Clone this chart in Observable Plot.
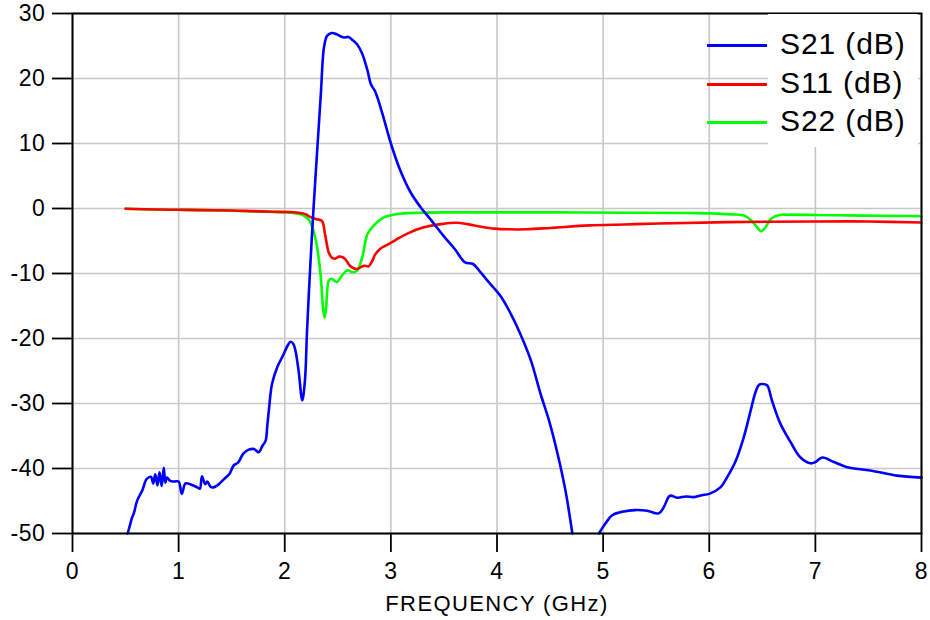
<!DOCTYPE html>
<html>
<head>
<meta charset="utf-8">
<script src="https://cdn.jsdelivr.net/npm/d3@7"></script>
<script src="https://cdn.jsdelivr.net/npm/@observablehq/plot@0.6"></script>
<style>
  html, body { margin: 0; padding: 0; background: #fff; }
  #wrap { position: relative; width: 930px; height: 620px; font-family: "Liberation Sans", Arial, sans-serif; }
  #wrap svg g[aria-label*="axis"] path, #wrap svg g[aria-label*="axis"] line { stroke-width: 1.8px; }
  #wrap svg g[aria-label*="tick label"] text { letter-spacing: 0.6px; }
  .legbg { position: absolute; background: #fff; }
  .legline { position: absolute; height: 3px; }
  .leglabel { position: absolute; font-size: 30px; line-height: 30px; letter-spacing: 0.9px; color: #000; white-space: nowrap; }
</style>
</head>
<body>
<div id="wrap"></div>
<script>
// ---- data ----
const xTicks = [0, 1, 2, 3, 4, 5, 6, 7, 8];
const yTicks = [30, 20, 10, 0, -10, -20, -30, -40, -50];
const xLabel = "FREQUENCY (GHz)";
const seriesNames = ["S21 (dB)", "S11 (dB)", "S22 (dB)"];
const seriesColors = ["#0000ff", "#ff0000", "#00ff00"];

// S21 (dB): frequency (GHz) and value; null marks the part below -50 dB
const s21Freq = [0.52,0.545,0.56,0.578,0.61,0.657,0.70,0.74,0.76,0.78,0.80,0.82,0.84,0.86,0.875,0.89,0.92,0.96,1.0,1.03,1.065,1.12,1.175,1.20,1.22,1.25,1.27,1.30,1.33,1.38,1.43,1.48,1.52,1.56,1.61,1.66,1.71,1.755,1.79,1.82,1.835,1.85,1.88,1.93,1.99,2.03,2.055,2.08,2.10,2.13,2.165,2.19,2.21,2.24,2.27,2.31,2.34,2.37,2.40,2.445,2.49,2.525,2.56,2.60,2.64,2.68,2.73,2.78,2.81,2.855,2.92,3.0,3.09,3.185,3.28,3.37,3.50,3.60,3.70,3.77,3.84,3.91,4.03,4.13,4.22,4.32,4.41,4.49,4.57,4.645,4.71,4.85,4.96,5.02,5.085,5.195,5.30,5.415,5.525,5.57,5.63,5.70,5.78,5.855,5.93,6.0,6.105,6.17,6.25,6.325,6.39,6.435,6.47,6.50,6.545,6.59,6.67,6.765,6.86,6.955,7.0,7.065,7.175,7.30,7.52,7.77,8.0];
const s21Val = [-50,-48.5,-47.6,-46.9,-44.9,-43.4,-41.6,-41.3,-42.3,-40.9,-42.6,-40.6,-42.7,-39.9,-42.2,-41.4,-41.9,-42.0,-42.0,-43.9,-42.3,-42.5,-42.9,-43.1,-41.2,-42.4,-42.0,-42.8,-42.9,-42.4,-41.6,-40.8,-39.5,-39.1,-37.7,-37.1,-37.0,-37.5,-36.5,-35.7,-33.5,-31.1,-27.0,-24.4,-22.4,-21.0,-20.5,-20.8,-21.8,-24.9,-29.5,-26.5,-18.8,-9.0,-0.3,10.0,17.6,24.8,26.6,27.0,26.8,26.5,26.3,26.4,25.9,25.3,23.8,21.2,19.2,17.9,14.6,10.0,5.8,2.5,0.2,-1.6,-4.3,-6.2,-8.3,-8.5,-9.7,-11.1,-13.4,-16.2,-19.3,-23.4,-28.5,-32.6,-37.7,-43.4,-50,null,-50,-48.5,-47.2,-46.6,-46.4,-46.5,-46.9,-46.0,-44.2,-44.5,-44.3,-44.4,-44.1,-43.9,-42.9,-41.3,-38.8,-35.2,-31.1,-28.3,-27.1,-27.0,-27.2,-29.5,-33.1,-35.9,-38.3,-39.2,-39.0,-38.3,-39.0,-39.8,-40.3,-41.1,-41.4];

// S11 (dB)
const s11Freq = [0.5,0.8,1.0,1.2,1.5,1.7,1.9,2.05,2.15,2.20,2.24,2.29,2.35,2.38,2.415,2.447,2.48,2.51,2.545,2.57,2.62,2.68,2.745,2.79,2.82,2.855,2.90,2.965,3.04,3.15,3.31,3.47,3.62,3.72,3.85,3.98,4.10,4.28,4.50,4.87,5.2,5.525,6.18,7.0,7.49,8.0];
const s11Val = [-0.05,-0.15,-0.2,-0.25,-0.3,-0.4,-0.5,-0.55,-0.7,-0.9,-1.3,-1.6,-1.9,-4.0,-6.8,-7.6,-7.7,-7.4,-7.5,-7.8,-8.9,-9.3,-8.8,-8.9,-8.2,-7.0,-6.2,-5.6,-4.9,-3.9,-2.9,-2.4,-2.2,-2.4,-2.8,-3.1,-3.2,-3.2,-3.0,-2.6,-2.45,-2.3,-2.1,-2.0,-2.0,-2.15];

// S22 (dB)
const s22Freq = [0.5,0.8,1.0,1.2,1.5,1.7,1.9,1.99,2.08,2.15,2.19,2.23,2.27,2.305,2.34,2.36,2.375,2.39,2.415,2.44,2.49,2.54,2.59,2.635,2.68,2.73,2.78,2.84,2.93,3.09,3.3,3.56,3.89,4.5,5.2,5.8,6.02,6.2,6.33,6.40,6.45,6.49,6.53,6.58,6.66,6.74,7.2,7.8,8.0];
const s22Val = [-0.05,-0.15,-0.2,-0.25,-0.35,-0.45,-0.55,-0.6,-0.7,-0.9,-1.2,-1.8,-3.4,-6.0,-10.6,-15.2,-16.8,-15.2,-11.1,-10.8,-11.3,-10.3,-9.5,-9.8,-9.6,-7.5,-3.9,-2.6,-1.4,-0.8,-0.65,-0.6,-0.6,-0.6,-0.65,-0.7,-0.75,-0.9,-1.1,-1.9,-2.9,-3.5,-2.9,-1.6,-1.0,-0.95,-1.05,-1.15,-1.2];

// ---- tables built from the arrays ----
const toRows = (fs, vs) => fs.map((f, i) => ({f, v: vs[i] === null ? NaN : vs[i]}));
const s21 = toRows(s21Freq, s21Val);
const s11 = toRows(s11Freq, s11Val);
const s22 = toRows(s22Freq, s22Val);

const chart = Plot.plot({
  width: 930,
  height: 620,
  marginLeft: 72,
  marginRight: 9,
  marginTop: 13,
  marginBottom: 87,
  style: {fontFamily: "'Liberation Sans', Arial, sans-serif", fontSize: "23px", color: "#000", background: "#fff", overflow: "visible"},
  x: {domain: [0, 8], ticks: xTicks, tickSize: 19, tickPadding: 10, label: null, tickFormat: d => String(d)},
  y: {domain: [-50, 30], ticks: yTicks, tickSize: 20, tickPadding: 7, label: null, tickFormat: d => String(d)},
  marks: [
    Plot.ruleX(xTicks, {stroke: "#c8c8c8", strokeWidth: 1.6}),
    Plot.ruleY(yTicks, {stroke: "#c8c8c8", strokeWidth: 1.6}),
    Plot.line(s22, {x: "f", y: "v", stroke: seriesColors[2], strokeWidth: 2.6, curve: "catmull-rom"}),
    Plot.line(s11, {x: "f", y: "v", stroke: seriesColors[1], strokeWidth: 2.6, curve: "catmull-rom"}),
    Plot.line(s21, {x: "f", y: "v", stroke: seriesColors[0], strokeWidth: 2.6, curve: "catmull-rom"}),
    Plot.frame({stroke: "#000", strokeWidth: 2}),
    Plot.text([xLabel], {text: d => d, frameAnchor: "bottom", dy: 77, fontSize: 22, fill: "#000"})
  ]
});

const wrap = document.getElementById("wrap");
wrap.appendChild(chart);
d3.select(chart).selectAll("text").filter(function() { return this.textContent === xLabel; }).style("letter-spacing", "1.4px");

// ---- legend (top right, over the plot) ----
const bg = document.createElement("div");
bg.className = "legbg";
Object.assign(bg.style, {left: "768px", top: "14px", width: "150px", height: "133px"});
wrap.appendChild(bg);
const rowY = [45, 84, 122];
seriesNames.forEach((name, i) => {
  const ln = document.createElement("div");
  ln.className = "legline";
  Object.assign(ln.style, {left: "707px", width: "60px", top: (rowY[i] - 1.5) + "px", background: seriesColors[i]});
  wrap.appendChild(ln);
  const lb = document.createElement("div");
  lb.className = "leglabel";
  lb.textContent = name;
  Object.assign(lb.style, {left: "780px", top: (rowY[i] - 16) + "px"});
  wrap.appendChild(lb);
});
</script>
</body>
</html>
